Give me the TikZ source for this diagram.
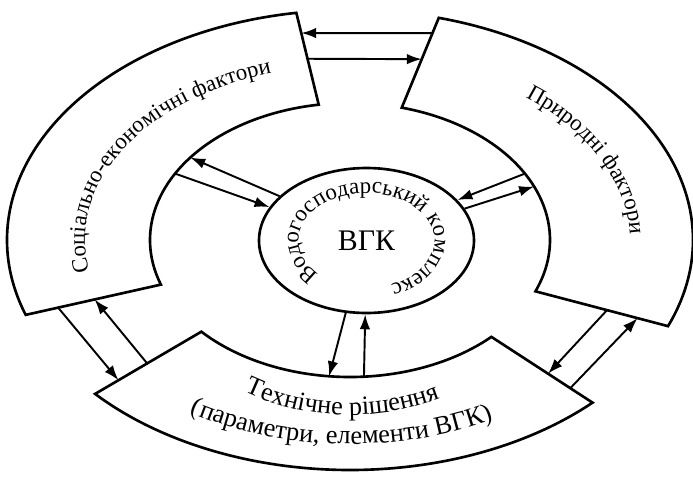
\documentclass[tikz,border=0pt]{standalone}
\usepackage{fontspec}
\setmainfont{Liberation Serif}
\usetikzlibrary{arrows.meta, calc, decorations.text, shapes.geometric}

\newcommand{\blockfont}{\fontsize{13pt}{15pt}\selectfont}
\newcommand{\techfont}{\fontsize{15pt}{17pt}\selectfont}

\begin{document}
\begin{tikzpicture}[
    sector/.style={draw, line width=1.5pt},
    link/.style={-{Latex[length=8.5pt,width=6pt]}, line width=1.1pt},
    curvetext/.style={decorate, decoration={text along path, text align=center, text={#1}}}
]
\useasboundingbox (-7,-4.72) rectangle (6.86,4.8);

% three blocks on the ring
\foreach \n/\a/\b in {soc/99/199, nat/-22/75, tech/222/315}{
    \coordinate (\n-oa) at (\a:6.86 and 4.6);
    \coordinate (\n-ob) at (\b:6.86 and 4.6);
    \coordinate (\n-ia) at (\a:4 and 2.74);
    \coordinate (\n-ib) at (\b:4 and 2.74);
    \draw[sector] (\n-oa) arc[start angle=\a, end angle=\b, x radius=6.86, y radius=4.6]
        -- (\n-ib) arc[start angle=\b, end angle=\a, x radius=4, y radius=2.74] -- cycle;
}

\node[draw, ellipse, line width=1.5pt, minimum width=4.3cm, minimum height=2.9cm,
      font=\fontsize{17pt}{20pt}\selectfont] (vgk) at (0.33,-0.01) {ВГК};

% texts
\path[curvetext={|\blockfont|Соціально-економічні фактори}]
    (195:5.3 and 3.5) arc[start angle=195, end angle=104, x radius=5.3, y radius=3.5];
\path[curvetext={|\blockfont|Природні фактори}]
    (59:5.6 and 3.65) arc[start angle=59, end angle=-9, x radius=5.6, y radius=3.65];
\path[curvetext={|\techfont|Технічне рішення}]
    (227:4.22 and 3.5) arc[start angle=227, end angle=308, x radius=4.22, y radius=3.5];
\path[curvetext={|\techfont|(параметри, елементи ВГК)}]
    (225:6 and 4.08) arc[start angle=225, end angle=311, x radius=6, y radius=4.08];
\path[shift={(vgk.center)}, curvetext={|\blockfont|Водогосподарський комплекс}]
    (250:1.36 and 0.95) arc[start angle=250, end angle=-92, x radius=1.36, y radius=0.95];

% arrows
\foreach \n/\t in {s1/143, s2/151, n1/29, n2/23, t1/264, t2/274}
    \coordinate (ring-\n) at (\t:4 and 2.74);

\draw[link] ($(nat-ob)!.17!(nat-ib)$) -- ($(soc-oa)!.22!(soc-ia)$);
\draw[link] ($(soc-oa)!.5!(soc-ia)$) -- ($(nat-ob)!.46!(nat-ib)$);
\draw[link] ($(soc-ob)!.24!(soc-ib)$) -- ($(tech-oa)!.22!(tech-ia)$);
\draw[link] ($(tech-oa)!.49!(tech-ia)$) -- ($(soc-ob)!.51!(soc-ib)$);
\draw[link] ($(nat-oa)!.46!(nat-ia)$) -- ($(tech-ob)!.44!(tech-ib)$);
\draw[link] ($(tech-ob)!.22!(tech-ib)$) -- ($(nat-oa)!.23!(nat-ia)$);

\draw[link] (vgk.153) -- (ring-s1);
\draw[link] (ring-s2) -- (vgk.161);
\draw[link] (ring-n1) -- (vgk.24);
\draw[link] (vgk.18) -- (ring-n2);
\draw[link] (vgk.254) -- (ring-t1);
\draw[link] (ring-t2) -- (vgk.269);
\end{tikzpicture}
\end{document}
